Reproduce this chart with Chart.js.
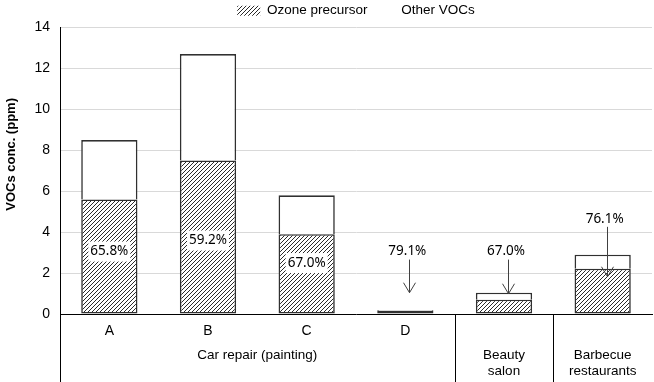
<!DOCTYPE html>
<html><head><meta charset="utf-8">
<script src="https://cdn.jsdelivr.net/npm/chart.js@4"></script>
<style>html,body{margin:0;padding:0;background:#fff}</style>
</head><body>
<canvas id="c" width="654" height="382"></canvas>
<script>
// ---- data ----
const categories = ['A', 'B', 'C', 'D', 'Beauty salon', 'Barbecue restaurants'];
const tickLabels = ['A', 'B', 'C', 'D', '', ''];
const ozonePrecursor = [5.6, 7.5, 3.9, 0.16, 0.70, 2.21];
const otherVOCs = [2.9, 5.2, 1.9, 0.04, 0.34, 0.69];
const ozoneShare = ['65.8%', '59.2%', '67.0%', '79.1%', '67.0%', '76.1%'];
const groupNames = [['Car repair (painting)'], ['Beauty', 'salon'], ['Barbecue', 'restaurants']];
const groupSpans = [[0, 3], [4, 4], [5, 5]];
const yMin = 0, yMax = 14, yStep = 2;
const yTitle = 'VOCs conc. (ppm)';

const ARIAL = '"Liberation Sans", Arial, sans-serif';

// ---- hatch pattern ----
function makeHatch() {
  const s = 4;
  const pc = document.createElement('canvas');
  pc.width = s; pc.height = s;
  const g = pc.getContext('2d');
  g.fillStyle = '#fff'; g.fillRect(0, 0, s, s);
  g.strokeStyle = '#2a2a2a'; g.lineWidth = 1;
  g.beginPath();
  g.moveTo(0, s); g.lineTo(s, 0);
  g.moveTo(-1, 1); g.lineTo(1, -1);
  g.moveTo(s - 1, s + 1); g.lineTo(s + 1, s - 1);
  g.stroke();
  return document.getElementById('c').getContext('2d').createPattern(pc, 'repeat');
}
const hatch = makeHatch();

const labelPlugin = {
  id: 'labelPlugin',
  afterDatasetsDraw(chart, args, opts) {
    const ctx = chart.ctx;
    const x = chart.scales.x, y = chart.scales.y;
    ctx.save();
    ctx.font = '13.5px "Noto Sans", sans-serif';
    ctx.textAlign = 'center';
    ctx.textBaseline = 'middle';
    opts.items.forEach(it => {
      const cx = x.getPixelForValue(it.i);
      const ty = y.getPixelForValue(it.y);
      const txt = ozoneShare[it.i];
      if (it.mode === 'inside') {
        const w = ctx.measureText(txt).width;
        ctx.fillStyle = '#fff';
        ctx.fillRect(cx - w / 2 - 2, ty - 10, w + 4, 20);
        ctx.fillStyle = '#000';
        ctx.fillText(txt, cx, ty);
      } else {
        ctx.fillStyle = '#000';
        ctx.fillText(txt, cx + 2, ty);
        const ax = Math.round(cx + 4) + 0.5;
        const tip = y.getPixelForValue(it.tip);
        ctx.strokeStyle = '#404040';
        ctx.lineWidth = 1;
        ctx.beginPath();
        ctx.moveTo(ax, ty + 8);
        ctx.lineTo(ax, tip);
        ctx.moveTo(ax - 6, tip - 10);
        ctx.lineTo(ax, tip);
        ctx.lineTo(ax + 6, tip - 10);
        ctx.stroke();
      }
    });
    ctx.restore();
  },
  afterDraw(chart) {
    const ctx = chart.ctx;
    const x = chart.scales.x, y = chart.scales.y;
    const a = chart.chartArea;
    const H = chart.height;
    ctx.save();
    ctx.strokeStyle = '#000';
    ctx.lineWidth = 1;
    ctx.beginPath();
    const lx = Math.round(a.left) + 0.5;
    ctx.moveTo(lx, a.bottom); ctx.lineTo(lx, H);
    for (let g = 1; g < groupSpans.length; g++) {
      const sx = Math.round((x.getPixelForValue(groupSpans[g][0] - 1) + x.getPixelForValue(groupSpans[g][0])) / 2) + 0.5;
      ctx.moveTo(sx, a.bottom); ctx.lineTo(sx, H);
    }
    ctx.stroke();
    ctx.fillStyle = '#000';
    ctx.font = '13.5px ' + ARIAL;
    ctx.textAlign = 'center';
    ctx.textBaseline = 'middle';
    groupNames.forEach((lines, g) => {
      const cx = (x.getPixelForValue(groupSpans[g][0]) + x.getPixelForValue(groupSpans[g][1])) / 2;
      lines.forEach((ln, k) => ctx.fillText(ln, cx, a.bottom + 41 + k * 16));
    });
    // y-axis title
    ctx.save();
    ctx.translate(11, y.getPixelForValue(7.8));
    ctx.rotate(-Math.PI / 2);
    ctx.font = 'bold 13px ' + ARIAL;
    ctx.fillText(yTitle, 0, 0);
    ctx.restore();
    ctx.restore();
  }
};

new Chart(document.getElementById('c'), {
  type: 'bar',
  data: {
    labels: tickLabels,
    datasets: [
      { label: 'Ozone precursor', data: ozonePrecursor, backgroundColor: hatch,
        borderColor: '#303030', borderWidth: 1.6, borderSkipped: false,
        categoryPercentage: 1, barPercentage: 0.57 },
      { label: 'Other VOCs', data: otherVOCs, backgroundColor: '#fff',
        borderColor: '#303030', borderWidth: 1.6, borderSkipped: 'start',
        categoryPercentage: 1, barPercentage: 0.57 }
    ]
  },
  options: {
    responsive: false,
    animation: false,
    devicePixelRatio: 1,
    layout: { padding: { left: 0, right: 2, top: 0, bottom: 0 } },
    plugins: {
      tooltip: { enabled: false },
      legend: {
        position: 'top', fullSize: false,
        labels: {
          boxWidth: 23, boxHeight: 10, padding: 4, color: '#000',
          font: { family: ARIAL, size: 13.5 },
          generateLabels(chart) {
            return chart.data.datasets.map((ds, i) => ({
              text: ds.label, fillStyle: ds.backgroundColor,
              strokeStyle: 'rgba(0,0,0,0)', lineWidth: 0, hidden: false, datasetIndex: i
            }));
          }
        }
      },
      labelPlugin: {
        items: [
          { i: 0, mode: 'inside', y: 3.05 },
          { i: 1, mode: 'inside', y: 3.59 },
          { i: 2, mode: 'inside', y: 2.49 },
          { i: 3, mode: 'arrow', y: 3.05, tip: 1.04 },
          { i: 4, mode: 'arrow', y: 3.05, tip: 0.99 },
          { i: 5, mode: 'arrow', y: 4.65, tip: 1.82 }
        ]
      }
    },
    scales: {
      x: {
        stacked: true,
        grid: { display: false, drawTicks: false },
        border: { display: true, color: '#000', width: 1 },
        ticks: { color: '#000', padding: 9, font: { family: ARIAL, size: 14 } },
        afterFit(s) { s.height = 68; }
      },
      y: {
        stacked: true, min: yMin, max: yMax,
        grid: { color: '#d9d9d9', drawTicks: false },
        border: { display: true, color: '#000', width: 1 },
        ticks: { stepSize: yStep, color: '#000', padding: 10, font: { family: ARIAL, size: 14 } },
        title: { display: false },
        afterFit(s) { s.width = 60; }
      }
    }
  },
  plugins: [labelPlugin]
});
</script>
</body></html>
